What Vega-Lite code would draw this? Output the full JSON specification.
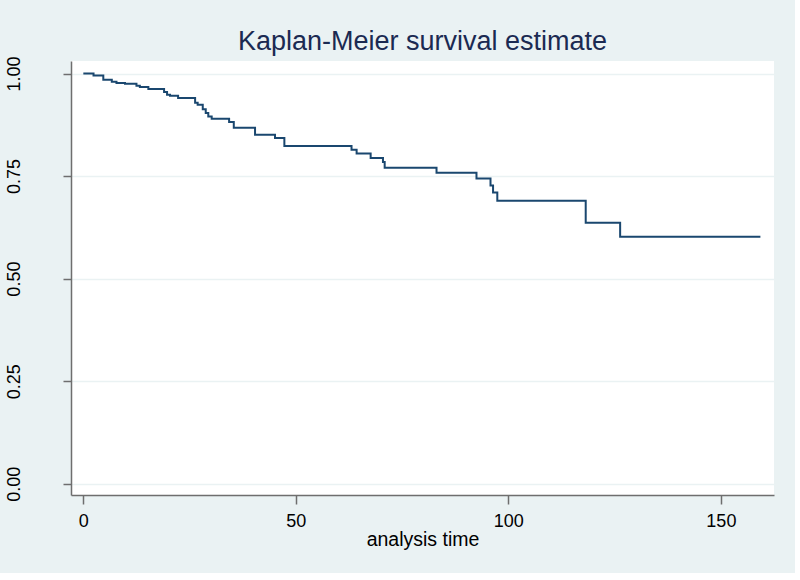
{
  "$schema": "https://vega.github.io/schema/vega-lite/v6.json",
  "autosize": {"type": "none"},
  "padding": {"left": 71, "top": 61, "right": 21, "bottom": 78},
  "width": 703,
  "height": 434,
  "background": "#EAF2F3",
  "title": {
    "text": "Kaplan-Meier survival estimate",
    "font": "Liberation Sans",
    "fontSize": 27,
    "fontWeight": "normal",
    "color": "#1b2a52",
    "anchor": "middle",
    "baseline": "alphabetic",
    "offset": 10,
    "dy": 31
  },
  "config": {
    "view": {"fill": "white", "stroke": null},
    "font": "Liberation Sans"
  },
  "data": {
    "values": [
      {"t": 0, "s": 1.0},
      {"t": 2.4, "s": 0.995},
      {"t": 4.7, "s": 0.985},
      {"t": 6.7, "s": 0.98},
      {"t": 7.8, "s": 0.977},
      {"t": 9.8, "s": 0.975},
      {"t": 12.5, "s": 0.97},
      {"t": 13.3, "s": 0.967},
      {"t": 15.3, "s": 0.962},
      {"t": 19.0, "s": 0.955},
      {"t": 19.7, "s": 0.948},
      {"t": 20.4, "s": 0.946},
      {"t": 22.3, "s": 0.94},
      {"t": 26.3, "s": 0.929},
      {"t": 26.9, "s": 0.924},
      {"t": 28.1, "s": 0.913},
      {"t": 28.8, "s": 0.904},
      {"t": 29.4, "s": 0.895},
      {"t": 30.2, "s": 0.89},
      {"t": 34.3, "s": 0.882},
      {"t": 35.4, "s": 0.868},
      {"t": 40.4, "s": 0.851},
      {"t": 45.1, "s": 0.843},
      {"t": 47.3, "s": 0.823},
      {"t": 63.1, "s": 0.814},
      {"t": 64.3, "s": 0.805},
      {"t": 67.6, "s": 0.794},
      {"t": 70.5, "s": 0.784},
      {"t": 70.9, "s": 0.77},
      {"t": 83.1, "s": 0.758},
      {"t": 92.5, "s": 0.744},
      {"t": 95.8, "s": 0.727},
      {"t": 96.4, "s": 0.71},
      {"t": 97.4, "s": 0.69},
      {"t": 118.2, "s": 0.636},
      {"t": 126.3, "s": 0.602},
      {"t": 159.3, "s": 0.602}
    ]
  },
  "mark": {"type": "line", "interpolate": "step-after", "color": "#1a476f", "strokeWidth": 2},
  "encoding": {
    "x": {
      "field": "t",
      "type": "quantitative",
      "title": "analysis time",
      "scale": {"domain": [-2.9, 162.5], "nice": false, "zero": false},
      "axis": {
        "values": [0, 50, 100, 150],
        "grid": false,
        "domainColor": "#6e6e6e",
        "domainWidth": 1.5,
        "tickColor": "#6e6e6e",
        "tickWidth": 1.5,
        "tickSize": 9,
        "labelFontSize": 18,
        "labelColor": "#000000",
        "labelPadding": 8,
        "labelFlush": false,
        "titleFontSize": 19.5,
        "titleFontWeight": "normal",
        "titleColor": "#000000",
        "titleBaseline": "alphabetic",
        "titleY": 50
      }
    },
    "y": {
      "field": "s",
      "type": "quantitative",
      "title": null,
      "scale": {"domain": [-0.0275, 1.0305], "nice": false, "zero": false},
      "axis": {
        "values": [0, 0.25, 0.5, 0.75, 1],
        "format": ".2f",
        "grid": true,
        "gridColor": "#EAF2F3",
        "gridWidth": 1.5,
        "domainColor": "#6e6e6e",
        "domainWidth": 1.5,
        "tickColor": "#6e6e6e",
        "tickWidth": 1.5,
        "tickSize": 8,
        "labelAngle": 270,
        "labelAlign": "center",
        "labelBaseline": "alphabetic",
        "labelFontSize": 18,
        "labelColor": "#000000",
        "labelPadding": 44,
        "labelFlush": false
      }
    }
  }
}
